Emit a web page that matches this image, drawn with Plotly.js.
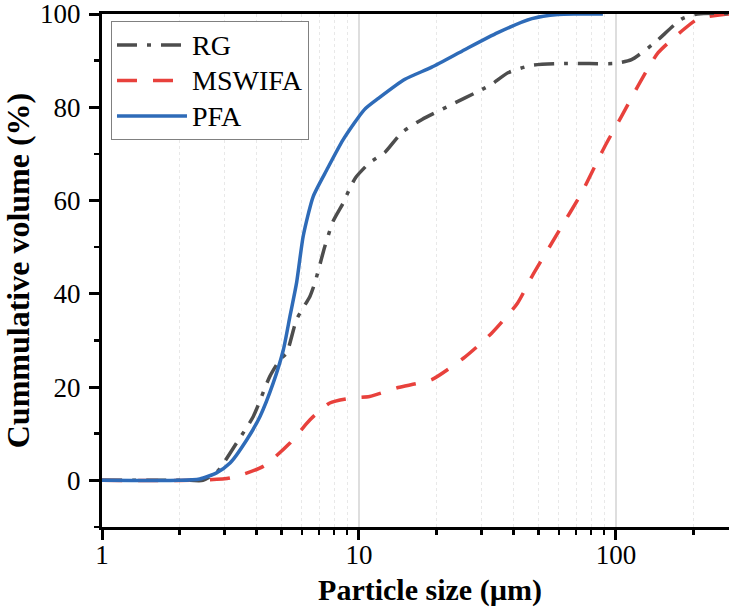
<!DOCTYPE html>
<html>
<head>
<meta charset="utf-8">
<script src="https://cdn.plot.ly/plotly-3.0.1.min.js"></script>
<style>
html,body{margin:0;padding:0;overflow:hidden;background:#fff;}
#chart{width:758px;height:607px;}
</style>
</head>
<body>
<div id="chart"></div>
<script>
// Particle size (µm) and cumulative volume (%)
const rgSize = [1, 2.2, 2.47, 2.8, 3.34, 3.88, 4.5, 4.93, 5.23, 5.72, 6.45, 6.74, 7.37, 7.94, 8.69, 9.14, 9.7, 11.0, 12.6, 14.7, 17.6, 22.2, 30.1, 33, 38, 47, 63, 98.9, 115, 142, 180, 208, 357];
const rgVol  = [0, 0, 0, 1.8, 8, 13.7, 22.3, 25.9, 27.3, 34.5, 39.5, 42.4, 50.2, 55.6, 59.5, 62.2, 64.9, 68.1, 70.3, 74.6, 77.4, 80.2, 83.8, 85, 87.4, 89, 89.4, 89.4, 90.2, 93.9, 98.9, 100, 100];

const mswSize = [1, 2.2, 3.15, 4.24, 5.39, 6.45, 7.7, 9.5, 11, 14.2, 19.2, 25.9, 32.9, 41.4, 47.1, 59.5, 73.6, 90.5, 105, 126, 146, 180, 208, 272, 357];
const mswVol  = [0, 0, 0.5, 3, 8, 13, 16.6, 17.7, 18, 19.9, 21.6, 26.5, 31.6, 38, 43.7, 53.1, 61.7, 71.6, 78, 86, 91.7, 96.3, 98.9, 100, 100];

const pfaSize = [1, 2.0, 2.4, 2.79, 3.15, 3.66, 4.12, 4.64, 5.08, 5.39, 5.72, 6.07, 6.64, 7.5, 8.67, 10.5, 11.9, 15.1, 19.2, 25.9, 34.7, 47.1, 59.5, 70, 89];
const pfaVol  = [0, 0, 0.3, 1.6, 3.7, 8.7, 13.7, 20.9, 28, 35.2, 42.4, 52.4, 60.9, 66.6, 73, 79.5, 81.9, 86, 88.6, 92.4, 96, 99, 99.9, 100, 100];

const seriesNames = ['RG', 'MSWIFA', 'PFA'];

const xTickVals = [1, 10, 100];
const xTickText = ['1', '10', '100'];
const xMinorVals = [2,3,4,5,6,7,8,9,20,30,40,50,60,70,80,90,200,300];
const yTickVals = [0, 20, 40, 60, 80, 100];

const serif = 'Liberation Serif, Times New Roman, serif';
const legendName = n => '<span style="font-size:28px">' + n + '</span>';

const traces = [
  {x: mswSize, y: mswVol, name: legendName(seriesNames[1]), mode: 'lines', legendrank: 2,
   line: {color: '#e8413c', width: 3.5, dash: '20px,16px', shape: 'spline', smoothing: 0.6}},
  {x: rgSize, y: rgVol, name: legendName(seriesNames[0]), mode: 'lines', legendrank: 1,
   line: {color: '#4d4d4d', width: 3.5, dash: '20px,10px,4px,10px', shape: 'spline', smoothing: 0.6}},
  {x: pfaSize, y: pfaVol, name: legendName(seriesNames[2]), mode: 'lines', legendrank: 3,
   line: {color: '#2e6bb8', width: 3.5, shape: 'spline', smoothing: 0.6}}
];

const layout = {
  width: 758, height: 607,
  margin: {l: 102, r: 0, t: 14, b: 80},
  paper_bgcolor: '#fff', plot_bgcolor: '#fff',
  font: {family: serif, color: '#000', size: 27},
  showlegend: true,
  legend: {
    x: 0.0137, y: 0.986, xanchor: 'left', yanchor: 'top',
    bgcolor: '#fff', bordercolor: '#808080', borderwidth: 1,
    font: {family: serif, size: 25, color: '#000'},
    itemwidth: 70
  },
  xaxis: {
    type: 'log', range: [0, 2.553],
    tickvals: xTickVals, ticktext: xTickText,
    ticks: 'outside', ticklen: 10, tickwidth: 3, tickcolor: '#000',
    ticklabelstandoff: -8, ticklabeloverflow: 'allow',
    showline: true, linewidth: 3, linecolor: '#000', mirror: true,
    showgrid: true, gridcolor: '#dedede', gridwidth: 1.5,
    zeroline: false,
    tickfont: {family: serif, size: 27, color: '#000'},
    minor: {tickvals: xMinorVals, ticks: 'outside', ticklen: 5, tickwidth: 2.5, tickcolor: '#000',
            showgrid: true, gridcolor: '#e8e8e8', gridwidth: 1, griddash: 'dot'},
    title: {text: '<b>Particle size (µm)</b>', font: {family: serif, size: 30, color: '#000'}, standoff: 14},
    automargin: false
  },
  yaxis: {
    range: [-10, 100],
    tickvals: yTickVals,
    ticks: 'outside', ticklen: 10, tickwidth: 3, tickcolor: '#000',
    ticklabelstandoff: 3, ticklabeloverflow: 'allow',
    showline: true, linewidth: 3, linecolor: '#000', mirror: true,
    showgrid: false, zeroline: false,
    tickfont: {family: serif, size: 27, color: '#000'},
    minor: {dtick: 10, ticks: 'outside', ticklen: 5, tickwidth: 2.5, tickcolor: '#000', showgrid: false},
    title: {text: '<b>Cummulative volume (%)</b>', font: {family: serif, size: 32, color: '#000'}, standoff: 10},
    automargin: false
  }
};

Plotly.newPlot('chart', traces, layout, {displayModeBar: false, staticPlot: true});
</script>
</body>
</html>
